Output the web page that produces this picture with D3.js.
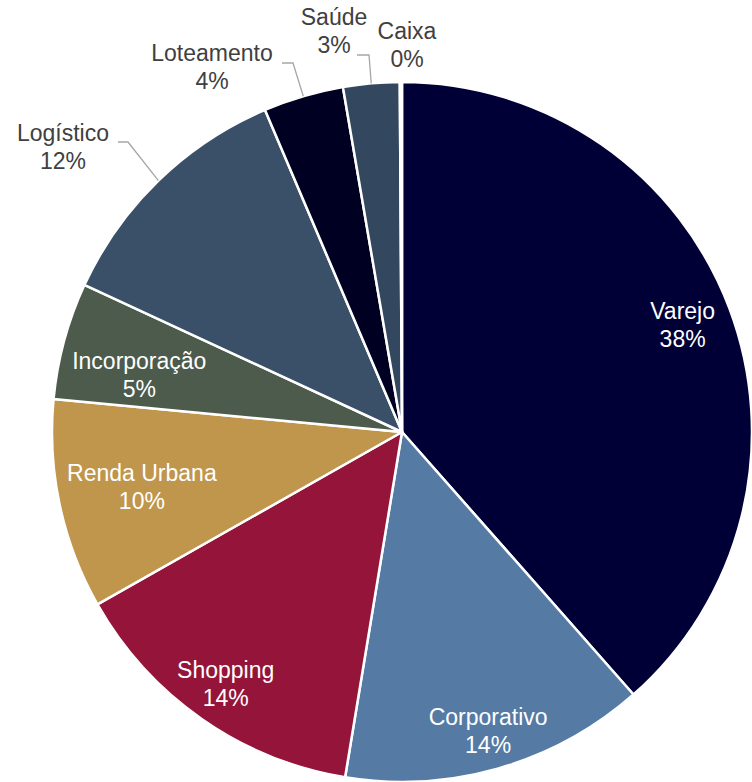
<!DOCTYPE html>
<html>
<head>
<meta charset="utf-8">
<script src="https://cdn.jsdelivr.net/npm/d3@7"></script>
<style>
  body { margin: 0; background: #fff; }
  svg text { font-family: "Liberation Sans", Arial, sans-serif; }
</style>
</head>
<body>
<svg id="chart" width="752" height="782"></svg>
<script>
// dados (participação em %)
var categories = ["Varejo", "Corporativo", "Shopping", "Renda Urbana", "Incorporação", "Logístico", "Loteamento", "Saúde", "Caixa"];
var values = [38.5, 14.1, 14.2, 9.7, 5.4, 11.7, 3.7, 2.6, 0.1];
var pctLabels = ["38%", "14%", "14%", "10%", "5%", "12%", "4%", "3%", "0%"];
var colors = ["#000037", "#557ba5", "#94143a", "#c0954c", "#4c5b4c", "#3a5068", "#000022", "#33475f", "#2a3a50"];

// layout
var W = 752, H = 782;
var cx = 402, cy = 432, R = 350;
var fontSize = 23, lineGap = 28;
var insideR = [300, 312, 308, 266, 268]; // raio do rótulo interno (best fit)
var insideAdj = {"Incorporação": [-4, 14]}; // ajuste fino
var outside = { //rótulo externo: posição do texto e cotovelo da linha guia
    "Logístico":  {x: 63,  y: 148, ex: 128, ey: 142, lx: 118},
    "Loteamento": {x: 212, y: 68,  ex: 293, ey: 63,  lx: 282},
    "Saúde":      {x: 334, y: 32,  ex: 369, ey: 55,  lx: 357},
    "Caixa":      {x: 407, y: 46}
};

var svg = d3.select("#chart");
var g = svg.append("g").attr("transform", "translate(" + cx + "," + cy + ")");

var data = categories.map(function(c, i){
    return {name: c, value: values[i], pct: pctLabels[i], color: colors[i], idx: i};
});

var pie = d3.pie().sort(null).value(function(d){ return d.value; });
var arc = d3.arc().innerRadius(0).outerRadius(R);
var arcs = pie(data);

g.selectAll("path.slice")
    .data(arcs)
    .enter()
    .append("path")
    .attr("class", "slice")
    .attr("d", arc)
    .attr("fill", function(d){ return d.data.color; })
    .attr("stroke", "#fff")
    .attr("stroke-width", 2.5)
    .attr("stroke-linejoin", "round");

// rótulos
arcs.forEach(function(a){
    var d = a.data;
    var mid = (a.startAngle + a.endAngle) / 2;
    var x, y, fill;
    var o = outside[d.name];
    if(o){
        x = o.x - cx; y = o.y - cy; fill = "#404040";
        if(o.ex !== undefined){ //linha guia
            var px = Math.sin(mid) * R, py = -Math.cos(mid) * R;
            g.append("polyline")
                .attr("points", [[px, py], [o.ex - cx, o.ey - cy], [o.lx - cx, o.ey - cy]].join(" "))
                .attr("fill", "none")
                .attr("stroke", "#a6a6a6")
                .attr("stroke-width", 1.3);
        }
    } else {
        var r = insideR[d.idx];
        x = Math.sin(mid) * r; y = -Math.cos(mid) * r; fill = "#fff";
        if(insideAdj[d.name]){
            x += insideAdj[d.name][0];
            y += insideAdj[d.name][1];
        }
    }
    var t = g.append("text")
        .attr("text-anchor", "middle")
        .attr("font-size", fontSize)
        .attr("fill", fill);
    t.append("tspan").attr("x", x).attr("y", y - lineGap / 2 + 7).text(d.name);
    t.append("tspan").attr("x", x).attr("y", y + lineGap / 2 + 7).text(d.pct);
});
</script>
</body>
</html>
